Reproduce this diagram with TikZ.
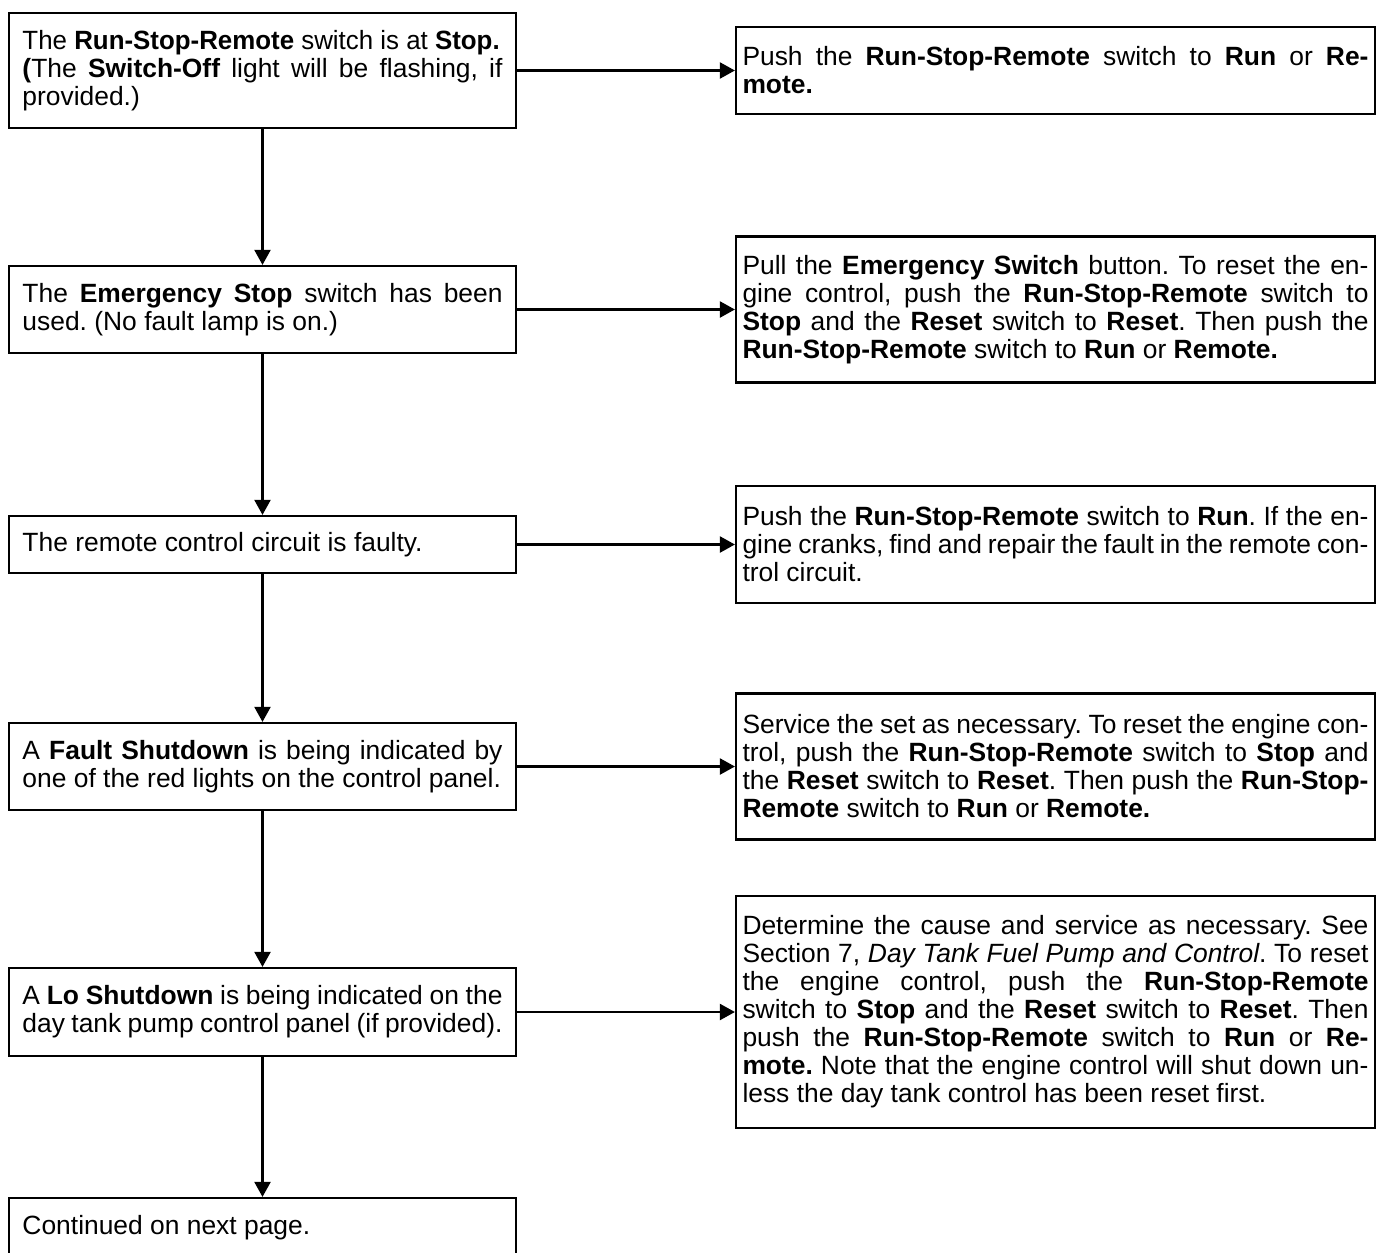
\documentclass[tikz,border=0pt]{standalone}
\usepackage{fontspec}
\setmainfont{Liberation Sans}
\usetikzlibrary{positioning,arrows.meta}
\tolerance=9999
\hyphenpenalty=10000
\frenchspacing

\begin{document}
\begin{tikzpicture}[x=0.5pt, y=0.5pt, >={Triangle[length=7.5pt,width=8pt]}]
    \tikzset{cause/.style={draw, line width=1.1pt, text width=240pt, inner xsep=6.75pt, inner ysep=3pt, align=justify, font=\fontsize{13.2}{14}\selectfont},
             remedy/.style={cause, text width=313pt, inner xsep=3.25pt},
             flow/.style={->, line width=1.1pt}}
    \useasboundingbox (0,0) rectangle (1377,-1253);

    % Causes
    \node[cause, minimum height=57.5pt] (stopsw)   at (262.5,-70.5)  {\scalebox{0.98}[1]{The \textbf{Run-Stop-Remote} switch is at \textbf{Stop.}}\linebreak \textbf{(}The \textbf{Switch-Off} light will be flashing, if\linebreak provided.)};
    \node[cause, minimum height=43.5pt] (emerg)    at (262.5,-309.5) {The \textbf{Emergency Stop} switch has been\linebreak used. (No fault lamp is on.)};
    \node[cause, minimum height=28.5pt] (remote)   at (262.5,-544.5) {The remote control circuit is faulty.};
    \node[cause, minimum height=43.5pt] (fault)    at (262.5,-766.5) {A \textbf{Fault Shutdown} is being indicated by\linebreak one of the red lights on the control panel.};
    \node[cause, minimum height=44pt]   (lo)       at (262.5,-1012)  {A \textbf{Lo Shutdown} is being indicated on the\linebreak day tank pump control panel (if provided).};
    \node[cause, minimum height=30pt]   (cont)     at (262.5,-1228)  {Continued on next page.};

    % Remedies
    \node[remedy, minimum height=43.5pt] (fixstop)   at (1055.5,-70.5) {Push the \textbf{Run-Stop-Remote} switch to \textbf{Run} or \textbf{Re-}\linebreak \textbf{mote.}};
    \node[remedy, minimum height=73pt]   (fixemerg)  at (1055.5,-309.5) {Pull the \textbf{Emergency Switch} button. To reset the en-\linebreak gine control, push the \textbf{Run-Stop-Remote} switch to\linebreak \textbf{Stop} and the \textbf{Reset} switch to \textbf{Reset}. Then push the\linebreak \textbf{Run-Stop-Remote} switch to \textbf{Run} or \textbf{Remote.}};
    \node[remedy, minimum height=58.5pt] (fixremote) at (1055.5,-544.5) {Push the \textbf{Run-Stop-Remote} switch to \textbf{Run}. If the en-\linebreak gine cranks, find and repair the fault in the remote con-\linebreak trol circuit.};
    \node[remedy, minimum height=73pt]   (fixfault)  at (1055.5,-766.5) {Service the set as necessary. To reset the engine con-\linebreak trol, push the \textbf{Run-Stop-Remote} switch to \textbf{Stop} and\linebreak the \textbf{Reset} switch to \textbf{Reset}. Then push the \textbf{Run-Stop-}\linebreak \textbf{Remote} switch to \textbf{Run} or \textbf{Remote.}};
    \node[remedy, minimum height=116pt]  (fixlo)     at (1055.5,-1012) {Determine the cause and service as necessary. See\linebreak Section 7, \textit{Day Tank Fuel Pump and Control}. To reset\linebreak the engine control, push the \textbf{Run-Stop-Remote}\linebreak switch to \textbf{Stop} and the \textbf{Reset} switch to \textbf{Reset}. Then\linebreak push the \textbf{Run-Stop-Remote} switch to \textbf{Run} or \textbf{Re-}\linebreak \textbf{mote.} Note that the engine control will shut down un-\linebreak less the day tank control has been reset first.};

    % Main chain
    \draw[flow] (stopsw) -- (emerg);
    \draw[flow] (emerg)  -- (remote);
    \draw[flow] (remote) -- (fault);
    \draw[flow] (fault)  -- (lo);
    \draw[flow] (lo)     -- (cont);

    % Cause to remedy
    \draw[flow] (stopsw) -- (fixstop);
    \draw[flow] (emerg)  -- (fixemerg);
    \draw[flow] (remote) -- (fixremote);
    \draw[flow] (fault)  -- (fixfault);
    \draw[flow] (lo)     -- (fixlo);
\end{tikzpicture}
\end{document}
